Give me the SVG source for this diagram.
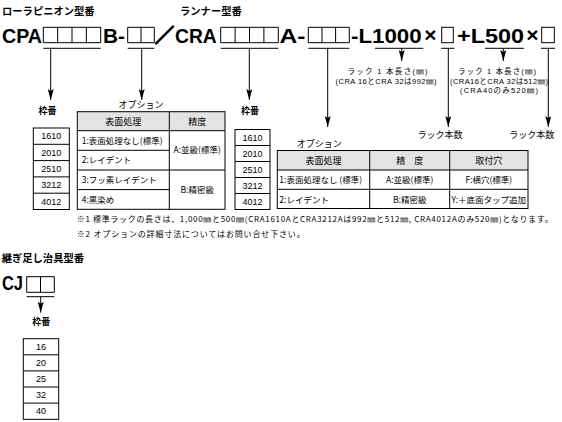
<svg xmlns="http://www.w3.org/2000/svg" width="562" height="422" viewBox="0 0 562 422">
<style>
.ja{font-family:"Noto Sans CJK JP","Liberation Sans",sans-serif;fill:#000}
.lat{font-family:"Liberation Sans","Noto Sans CJK JP",sans-serif;fill:#000}
.big{font-family:"Liberation Sans",Arial,sans-serif;font-weight:bold;font-size:21px;fill:#000}
.b{font-weight:bold}
.box{fill:none;stroke:#000;stroke-width:1}
.ln{fill:none;stroke:#000;stroke-width:1}
.arr{fill:none;stroke:#000;stroke-width:1;marker-end:url(#ah)}
.tb{fill:none;stroke:#000;stroke-width:1}
.hd{fill:#e3e3e3;stroke:none}
.s9{font-size:9px}
.s85{font-size:8.5px}
.s8{font-size:8px}
.s75{font-size:7.5px}
.mid{text-anchor:middle}
</style>
<defs>
<marker id="ah" viewBox="0 0 11 6" refX="11" refY="3" markerWidth="11" markerHeight="6" markerUnits="userSpaceOnUse" orient="auto">
<path d="M0,0 L11,3 L0,6 L2,3 Z" fill="#000"/>
</marker>
</defs>

<g id="titles">
<text class="ja b" x="2" y="15" font-size="10.3">ローラピニオン型番</text>
<text class="ja b" x="180" y="15" font-size="10.3">ランナー型番</text>
</g>

<g id="model-code">
<text class="big" x="2" y="43" textLength="40" lengthAdjust="spacingAndGlyphs">CPA</text>
<path class="box" d="M43.3,27.3 H100.7 V42.7 H43.3 Z M57.65,27.3 V42.7 M72,27.3 V42.7 M86.35,27.3 V42.7"/>
<text class="big" x="103" y="43" textLength="22" lengthAdjust="spacingAndGlyphs">B-</text>
<path class="box" d="M127.7,27.3 H154.3 V42.7 H127.7 Z M141,27.3 V42.7"/>
<text class="ja b mid" x="164.5" y="43" font-size="19" stroke="#000" stroke-width="1.4">／</text>
<text class="big" x="175" y="43" textLength="41.7" lengthAdjust="spacingAndGlyphs">CRA</text>
<path class="box" d="M220.7,27.3 H278.3 V42.7 H220.7 Z M235.1,27.3 V42.7 M249.5,27.3 V42.7 M263.9,27.3 V42.7"/>
<text class="big" x="279.5" y="43" textLength="26" lengthAdjust="spacingAndGlyphs">A-</text>
<path class="box" d="M308.3,27.3 H349.3 V42.7 H308.3 Z M322,27.3 V42.7 M335.6,27.3 V42.7"/>
<text class="big" x="351" y="43" textLength="70.7" lengthAdjust="spacingAndGlyphs">-L1000</text>
<text class="big mid" x="430.5" y="42" font-size="26">×</text>
<rect class="box" x="441.7" y="27.3" width="11.6" height="15.4"/>
<text class="big" x="457" y="43" textLength="67" lengthAdjust="spacingAndGlyphs">+L500</text>
<text class="big mid" x="532.5" y="42" font-size="26">×</text>
<rect class="box" x="541.7" y="27.3" width="12.6" height="15.4"/>
</g>

<g id="connectors">
<path class="ln" d="M43.3,48.3 H100.7 M127.7,48.3 H154.3 M220.7,48.3 H278.3 M308.3,48.3 H349.3 M375,48.3 H423.3 M441,48.3 H454.3 M485,48.3 H524 M541,48.3 H555"/>
<line class="arr" x1="50.7" y1="48.3" x2="50.7" y2="100"/>
<line class="arr" x1="141.7" y1="48.3" x2="141.7" y2="100"/>
<line class="arr" x1="249.3" y1="48.3" x2="249.3" y2="100"/>
<line class="arr" x1="327.7" y1="48.3" x2="327.7" y2="127"/>
<line class="arr" x1="401.7" y1="48.3" x2="401.7" y2="61"/>
<line class="arr" x1="448.3" y1="48.3" x2="448.3" y2="127"/>
<line class="arr" x1="503.3" y1="48.3" x2="503.3" y2="61"/>
<line class="arr" x1="548.3" y1="48.3" x2="548.3" y2="127"/>
<path class="ln" d="M26.7,296.7 H54.3"/>
<line class="arr" x1="40.7" y1="296.7" x2="40.7" y2="312.7"/>
</g>

<g id="rack-length-1">
<text class="lat s75 mid" x="387.5" y="74" textLength="80" lengthAdjust="spacing">ラック 1 本長さ(㎜)</text>
<text class="lat s75 mid" x="386" y="83.5" textLength="101" lengthAdjust="spacing">(CRA 16とCRA 32は992㎜)</text>
</g>
<g id="rack-length-2">
<text class="lat s75 mid" x="497" y="74" textLength="78" lengthAdjust="spacing">ラック 1 本長さ(㎜)</text>
<text class="lat s75 mid" x="499" y="83.5" textLength="98" lengthAdjust="spacing">(CRA16とCRA 32は512㎜)</text>
<text class="lat s75 mid" x="499" y="93" textLength="78" lengthAdjust="spacing">(CRA40のみ520㎜)</text>
</g>
<g id="rack-count-1"><text class="ja s9 mid" x="440" y="137.5">ラック本数</text></g>
<g id="rack-count-2"><text class="ja s9 mid" x="531.7" y="137.5">ラック本数</text></g>

<g id="frame-table-1">
<text class="ja b s9 mid" x="47.5" y="114">枠番</text>
<rect class="tb" x="33.3" y="128" width="36" height="81.5"/>
<path class="ln" d="M33.3,144.3 H69.3 M33.3,160.6 H69.3 M33.3,176.9 H69.3 M33.3,193.2 H69.3"/>
<text class="lat s9 mid" x="51.3" y="139.4">1610</text>
<text class="lat s9 mid" x="51.3" y="155.7">2010</text>
<text class="lat s9 mid" x="51.3" y="172">2510</text>
<text class="lat s9 mid" x="51.3" y="188.3">3212</text>
<text class="lat s9 mid" x="51.3" y="204.6">4012</text>
</g>

<g id="option-table-1">
<text class="ja s9 mid" x="141" y="107.5">オプション</text>
<rect class="hd" x="77.3" y="111.7" width="147.7" height="19"/>
<rect class="tb" x="77.3" y="111.7" width="147.7" height="97.6"/>
<path class="ln" d="M77.3,130.7 H225 M169.3,111.7 V209.3 M77.3,150.3 H169.3 M77.3,170 H225 M77.3,189.6 H169.3"/>
<text class="ja s9 mid" x="123.3" y="124.5">表面処理</text>
<text class="ja s9 mid" x="197.2" y="124.5">精度</text>
<text class="ja s85" x="81.7" y="143.5">1:表面処理なし(標準)</text>
<text class="ja s85" x="81.7" y="163">2:レイデント</text>
<text class="ja s85" x="81.7" y="182.8">3:フッ素レイデント</text>
<text class="ja s85" x="81.7" y="202.5">4:黒染め</text>
<text class="ja s85 mid" x="197.2" y="153.3">A:並級(標準)</text>
<text class="ja s85 mid" x="197.2" y="192.6">B:精密級</text>
</g>

<g id="frame-table-2">
<text class="ja b s9 mid" x="250" y="114">枠番</text>
<rect class="tb" x="235" y="129.5" width="35" height="80"/>
<path class="ln" d="M235,145.5 H270 M235,161.5 H270 M235,177.5 H270 M235,193.5 H270"/>
<text class="lat s9 mid" x="252.5" y="140.7">1610</text>
<text class="lat s9 mid" x="252.5" y="156.7">2010</text>
<text class="lat s9 mid" x="252.5" y="172.7">2510</text>
<text class="lat s9 mid" x="252.5" y="188.7">3212</text>
<text class="lat s9 mid" x="252.5" y="204.7">4012</text>
</g>

<g id="option-table-2">
<text class="ja s9" x="296.7" y="146.5">オプション</text>
<rect class="hd" x="277.3" y="150.5" width="250.7" height="19.5"/>
<rect class="tb" x="277.3" y="150.5" width="250.7" height="58"/>
<path class="ln" d="M277.3,170 H528 M277.3,189.3 H528 M369.7,150.5 V208.5 M449.7,150.5 V208.5"/>
<text class="ja s9 mid" x="323.5" y="164">表面処理</text>
<text class="ja s9 mid" x="409.7" y="164">精　度</text>
<text class="ja s9 mid" x="488.8" y="164">取付穴</text>
<text class="ja s85" x="279.3" y="183.3">1:表面処理なし (標準)</text>
<text class="ja s85 mid" x="409.7" y="183.3">A:並級(標準)</text>
<text class="ja s85 mid" x="488.8" y="183.3">F:横穴(標準)</text>
<text class="ja s85" x="279.3" y="202.5">2:レイデント</text>
<text class="ja s85 mid" x="409.7" y="202.5">B:精密級</text>
<text class="ja s85 mid" x="488.8" y="202.5">Y:＋底面タップ追加</text>
</g>

<g id="notes">
<text class="ja s8" x="76.7" y="222" textLength="476" lengthAdjust="spacing">※1 標準ラックの長さは、1,000㎜と500㎜(CRA1610AとCRA3212Aは992㎜と512㎜, CRA4012Aのみ520㎜)となります。</text>
<text class="ja s8" x="76.7" y="237" textLength="228" lengthAdjust="spacing">※2 オプションの詳細寸法についてはお問い合せ下さい。</text>
</g>

<g id="jig">
<text class="ja b" x="1.7" y="262" font-size="10.3">継ぎ足し治具型番</text>
<text class="big" x="2" y="290" font-size="20" textLength="21" lengthAdjust="spacingAndGlyphs">CJ</text>
<path class="box" d="M26.7,276.7 H54.3 V292.3 H26.7 Z M40.5,276.7 V292.3"/>
<text class="ja b s9 mid" x="41.2" y="325">枠番</text>
<rect class="tb" x="23.3" y="338.7" width="35.4" height="80.6"/>
<path class="ln" d="M23.3,354.8 H58.7 M23.3,370.9 H58.7 M23.3,387 H58.7 M23.3,403.1 H58.7"/>
<text class="lat s9 mid" x="41" y="350">16</text>
<text class="lat s9 mid" x="41" y="366.1">20</text>
<text class="lat s9 mid" x="41" y="382.2">25</text>
<text class="lat s9 mid" x="41" y="398.3">32</text>
<text class="lat s9 mid" x="41" y="414.4">40</text>
</g>
</svg>
